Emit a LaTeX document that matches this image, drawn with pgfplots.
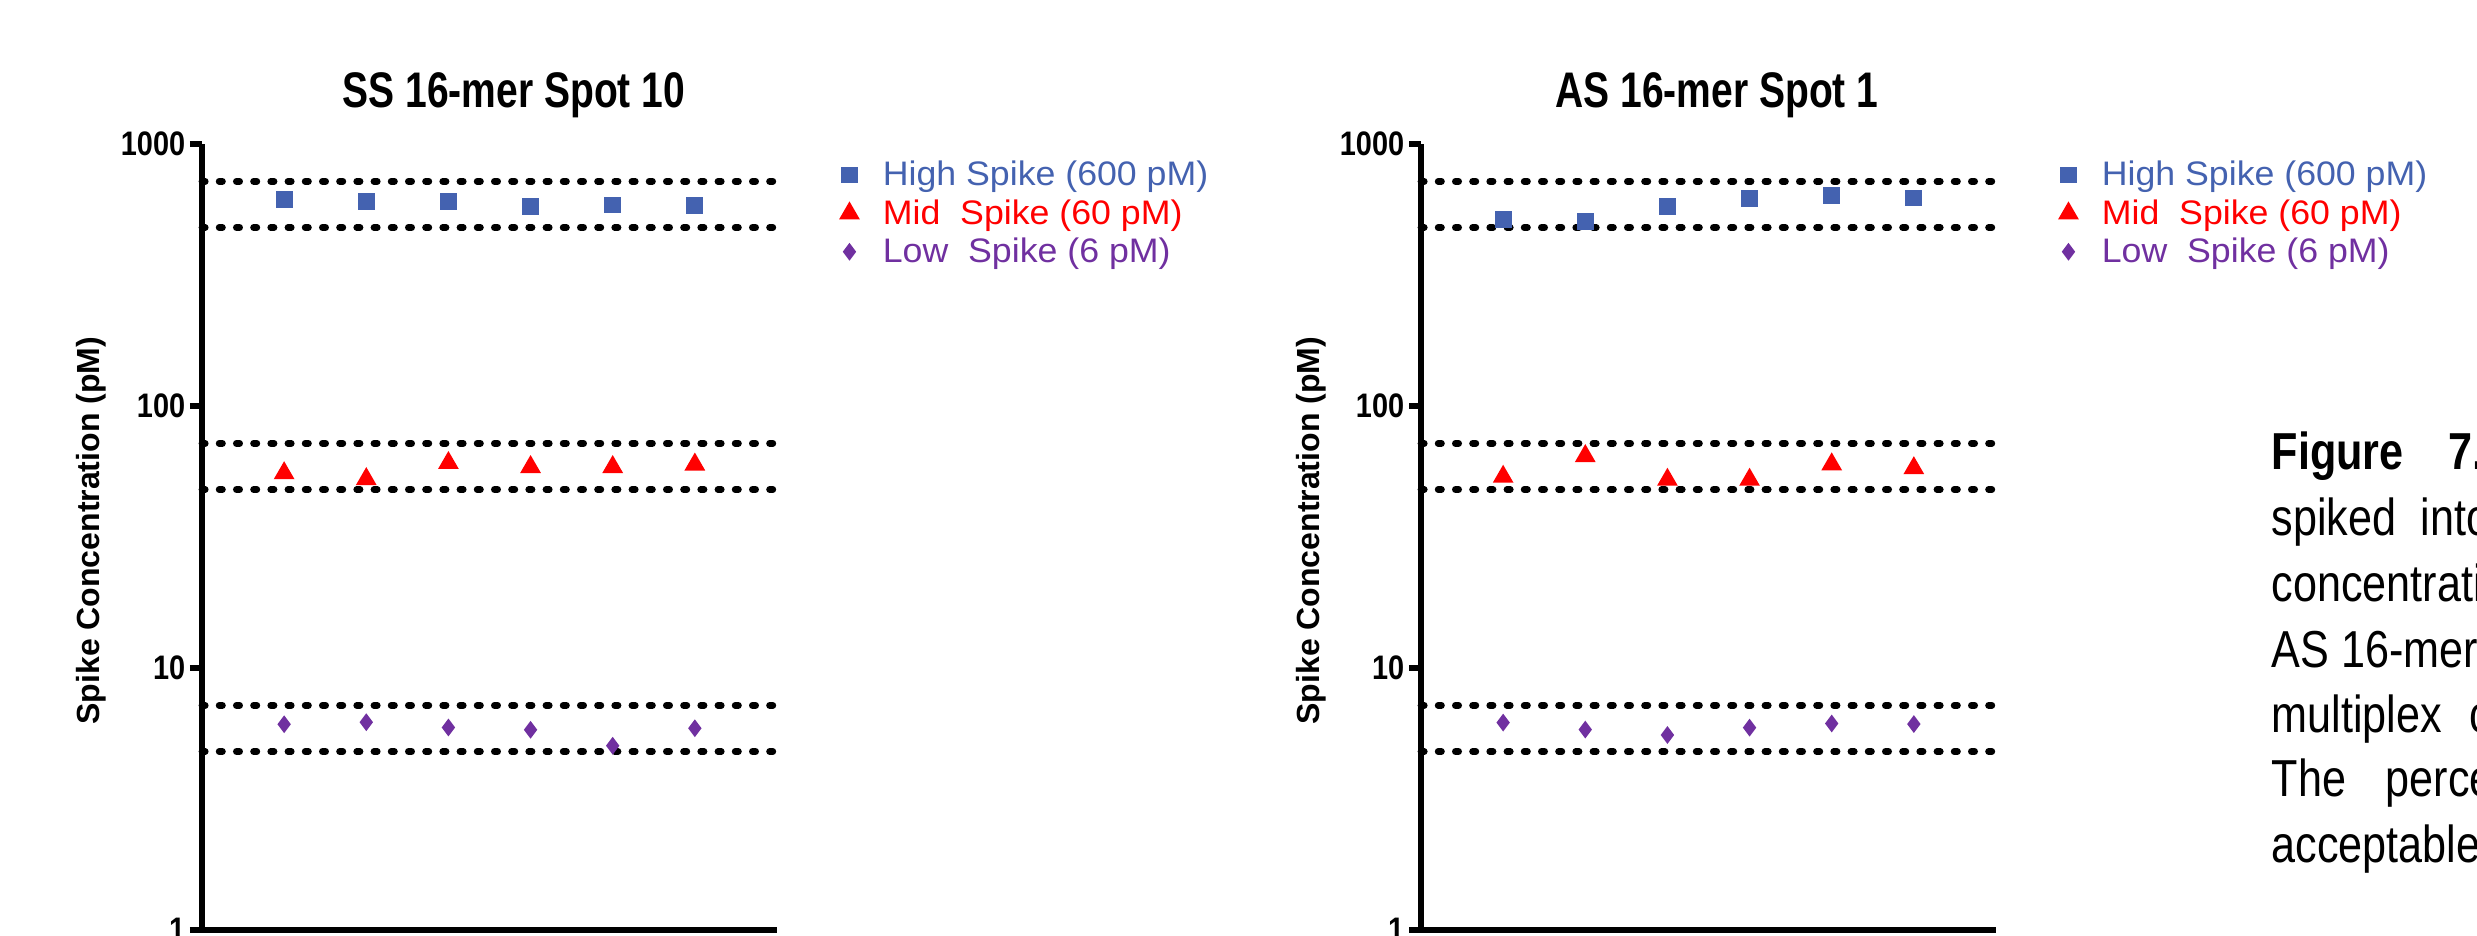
\documentclass[border=0pt]{standalone}
\usepackage{fontspec}
\setmainfont{Liberation Sans}
\newfontfamily\tickfont[FakeStretch=0.85]{Liberation Sans}
\newfontfamily\titlefont[FakeStretch=0.78]{Liberation Sans}
\newfontfamily\legfont[FakeStretch=1.05]{Liberation Sans}
\newfontfamily\capfont[FakeStretch=0.83]{Liberation Sans}
\usepackage{pgfplots}
\pgfplotsset{compat=1.18}

\definecolor{hiblue}{RGB}{68,98,176}
\definecolor{midred}{RGB}{255,0,0}
\definecolor{lowpurp}{RGB}{112,48,160}

\pgfplotsset{
  legend image code/.code={\draw[mark repeat=2,mark phase=2,#1]
    plot coordinates {(0pt,0pt)(2pt,0pt)(4pt,0pt)};},
  every axis title/.style={anchor=base, inner sep=0pt,
    font=\titlefont\bfseries\fontsize{12.5}{14}\selectfont},
}
\pgfplotsset{
  spikeax/.style={
    scale only axis, width=143.75pt, height=196.5pt, anchor=south west,
    xmin=0, xmax=7, ymin=1, ymax=1000,
    axis lines*=left, axis line style={line width=1.4pt},
    xtick=\empty, ytick={1,10,100,1000}, yticklabels={1,10,100,1000},
    yminorticks=false, tick align=outside, major tick length=3pt,
    tick style={black, line width=1.4pt},
    yticklabel style={font=\tickfont\bfseries\fontsize{8.5}{10}\selectfont, inner sep=1pt},
    ylabel={Spike Concentration (pM)},
    ylabel style={at={(axis description cs:-0.1774,0.508)}, anchor=base,
      font=\bfseries\fontsize{8}{10}\selectfont, inner sep=0pt},
    clip=false,
    legend cell align=left,
    legend style={at={(axis description cs:1.1104,0.9822)}, anchor=north west,
      draw=none, fill=none, inner sep=0pt, outer sep=0pt,
      row sep=1.1pt, column sep=6.1pt,
      font=\legfont\fontsize{8.5}{10}\selectfont,
      nodes={inner sep=0pt, text height=7pt, text depth=1.5pt}},
  },
  dotline/.style={black, line width=1.7pt, line cap=round,
    dash pattern=on 0.8pt off 3.5pt, mark=none, forget plot},
  hispk/.style={only marks, mark=square*, mark size=1.9pt, color=hiblue},
  midspk/.style={only marks, mark=triangle*, mark size=2.6pt, color=midred},
  lowspk/.style={only marks, mark=diamond*, mark size=1.9pt, color=lowpurp},
}

\begin{document}
\begin{tikzpicture}
\useasboundingbox (0pt,0pt) rectangle (619.25pt,233.75pt);

% left panel
\begin{axis}[ymode=log, spikeax, at={(50.5pt,1.25pt)},
  title={SS 16-mer Spot 10},
  title style={at={(axis description cs:0.5426,1.0458)}}]
\addplot[dotline] coordinates {(0,720) (7,720)};
\addplot[dotline] coordinates {(0,480) (7,480)};
\addplot[dotline] coordinates {(0,72) (7,72)};
\addplot[dotline] coordinates {(0,48) (7,48)};
\addplot[dotline] coordinates {(0,7.2) (7,7.2)};
\addplot[dotline] coordinates {(0,4.8) (7,4.8)};
\addplot[hispk] coordinates {(1,613) (2,604) (3,604) (4,576) (5,585) (6,581)};
\addplot[midspk] coordinates {(1,55.4) (2,52.6) (3,60.6) (4,58.5) (5,58.5) (6,59.8)};
\addplot[lowspk] coordinates {(1,6.10) (2,6.21) (3,5.93) (4,5.81) (5,5.05) (6,5.89)};
\legend{\textcolor{hiblue}{High Spike (600 pM)},
  \textcolor{midred}{Mid\ \ Spike (60 pM)},
  \textcolor{lowpurp}{Low\ \ Spike (6 pM)}}
\end{axis}

% right panel
\begin{axis}[ymode=log, spikeax, at={(355.25pt,1.25pt)},
  title={AS 16-mer Spot 1},
  title style={at={(axis description cs:0.5148,1.0458)}}]
\addplot[dotline] coordinates {(0,720) (7,720)};
\addplot[dotline] coordinates {(0,480) (7,480)};
\addplot[dotline] coordinates {(0,72) (7,72)};
\addplot[dotline] coordinates {(0,48) (7,48)};
\addplot[dotline] coordinates {(0,7.2) (7,7.2)};
\addplot[dotline] coordinates {(0,4.8) (7,4.8)};
\addplot[hispk] coordinates {(1,516) (2,507) (3,576) (4,618) (5,637) (6,622)};
\addplot[midspk] coordinates {(1,53.7) (2,64.4) (3,52.3) (4,52.3) (5,59.9) (6,57.9)};
\addplot[lowspk] coordinates {(1,6.19) (2,5.82) (3,5.55) (4,5.92) (5,6.14) (6,6.11)};
\legend{\textcolor{hiblue}{High Spike (600 pM)},
  \textcolor{midred}{Mid\ \ Spike (60 pM)},
  \textcolor{lowpurp}{Low\ \ Spike (6 pM)}}
\end{axis}

% caption text, cut by the page edge as in the source
\begin{scope}[every node/.style={anchor=base west, inner sep=0pt,
    font=\capfont\fontsize{13}{15}\selectfont}]
\node[font=\capfont\bfseries\fontsize{13}{15}\selectfont] at (567.75pt,116.5pt) {Figure};
\node[font=\capfont\bfseries\fontsize{13}{15}\selectfont] at (612pt,116.5pt) {7.};
\node at (567.75pt,100pt) {spiked};
\node at (605pt,100pt) {into};
\node at (567.75pt,83.5pt) {concentration};
\node at (567.75pt,67pt) {AS 16-mer};
\node at (567.75pt,50.75pt) {multiplex};
\node at (617.25pt,50.75pt) {c};
\node at (567.75pt,34.75pt) {The};
\node at (596.25pt,34.75pt) {percent};
\node at (567.75pt,18.25pt) {acceptable};
\end{scope}
\end{tikzpicture}
\end{document}
